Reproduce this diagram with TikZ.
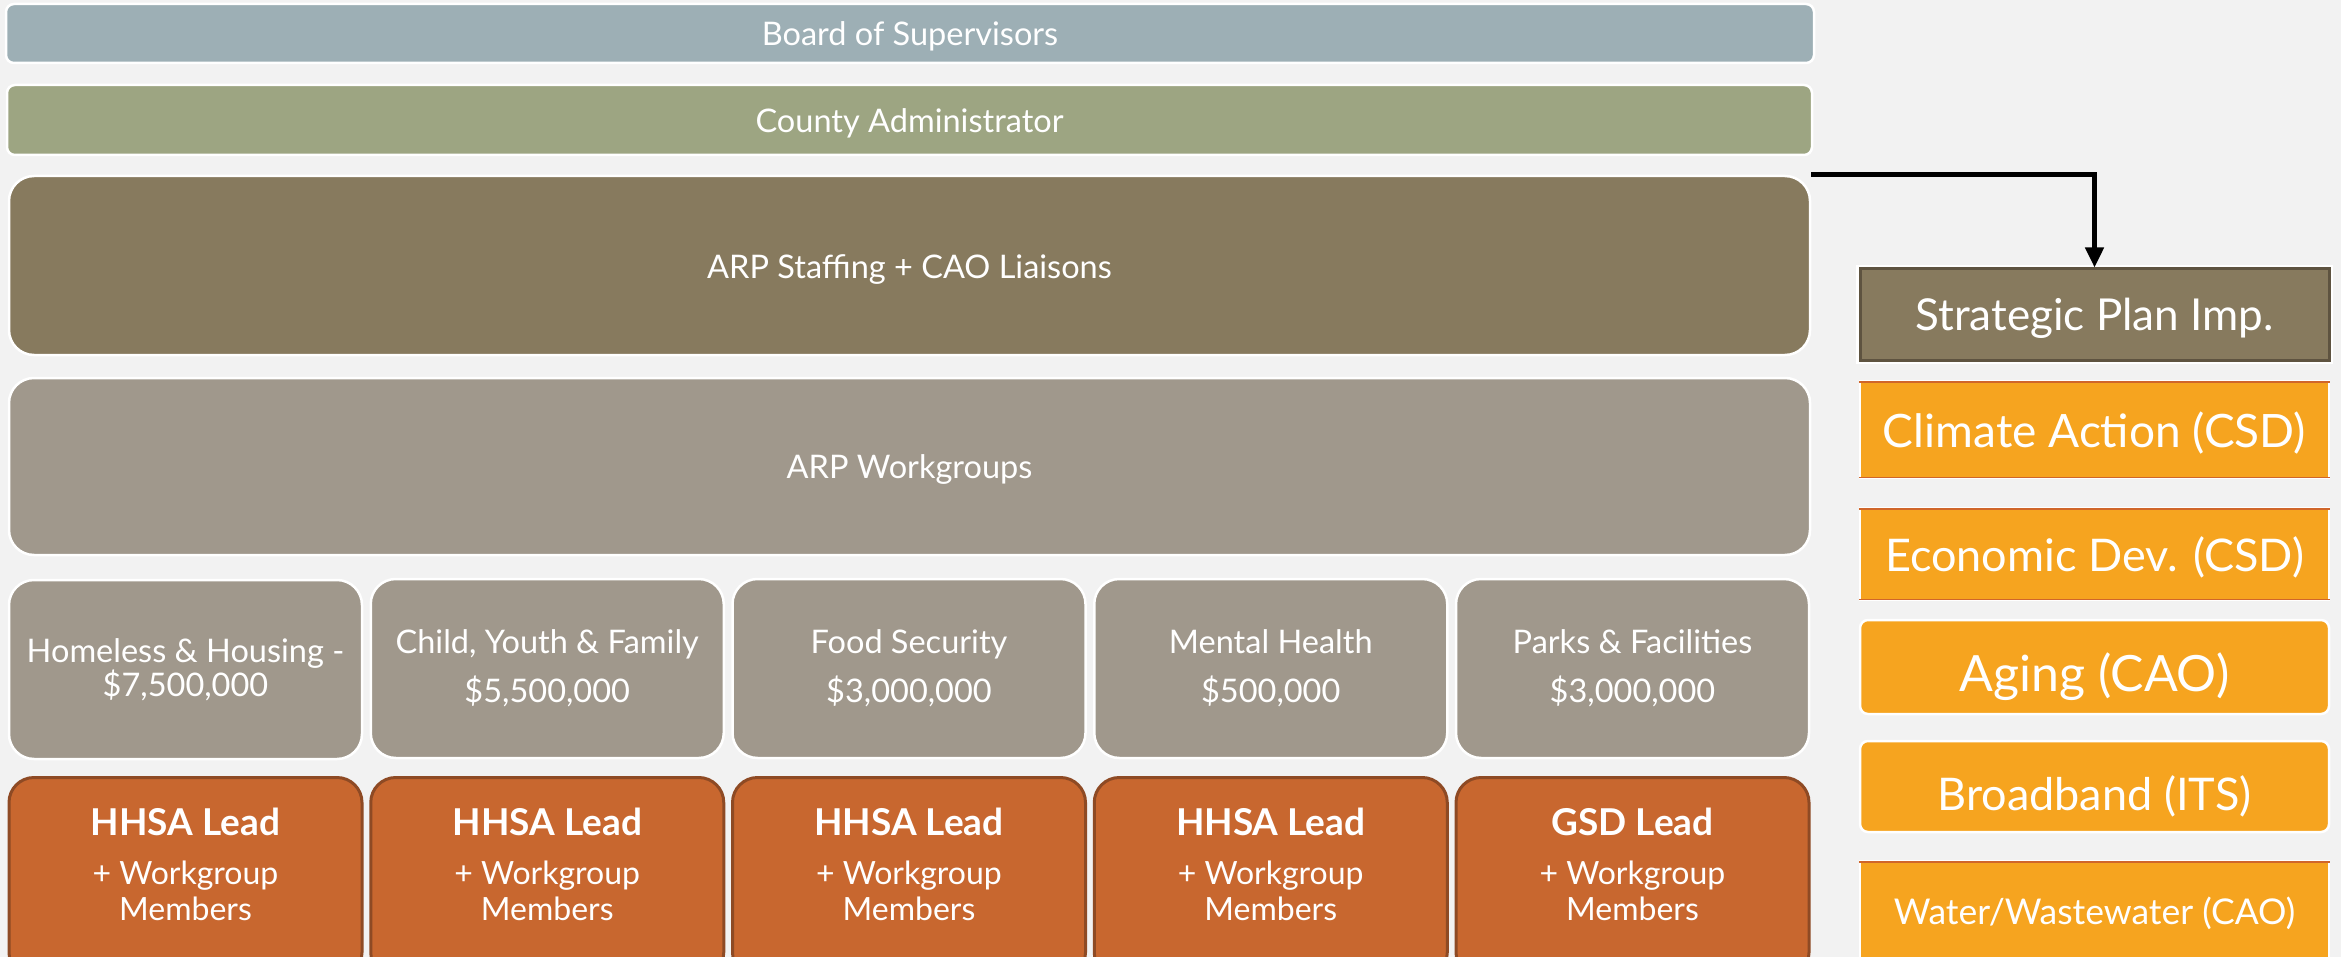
\documentclass[tikz,border=0pt]{standalone}
\usepackage{fontspec}
\setmainfont{Lato}
\usetikzlibrary{arrows.meta}
\definecolor{bgc}{HTML}{F2F2F2}
\definecolor{boardc}{HTML}{9DAFB5}
\definecolor{countyc}{HTML}{9DA582}
\definecolor{staffc}{HTML}{877A5E}
\definecolor{staffline}{HTML}{5E5340}
\definecolor{greyc}{HTML}{A0988C}
\definecolor{leadc}{HTML}{C8672F}
\definecolor{leadline}{HTML}{8E4A24}
\definecolor{sidec}{HTML}{F6A41F}
\definecolor{sideline}{HTML}{D0662A}
\newcommand\lowertext[2]{\raisebox{-#1}[\height][\depth]{#2}}
\begin{document}
\begin{tikzpicture}[x=1pt,y=-1pt,
  bandbox/.style={draw=white, line width=2.5pt, text=white, inner sep=0pt, align=center,
     font=\fontsize{32.5}{38}\selectfont},
  groupbox/.style={bandbox, fill=greyc, rounded corners=25pt, minimum width=353pt, minimum height=179pt},
  leadbox/.style={draw=leadline, line width=3pt, fill=leadc, rounded corners=25pt,
     minimum width=353pt, minimum height=200pt, anchor=north, inner sep=0pt},
  leadtext/.style={text=white, align=center, inner sep=0pt, font=\fontsize{32}{36}\selectfont},
  sidebox/.style={draw=white, line width=2.5pt, fill=sidec, text=white, inner sep=0pt,
     minimum width=469pt, align=center},
  edgeline/.style={draw=sideline, line width=1.5pt},
  link/.style={draw=black, line width=4.5pt, -{Triangle[width=18pt,length=20pt]}}
]
\useasboundingbox (0,0) rectangle (2341,957);
\clip (0,0) rectangle (2341,957);
\fill[bgc] (0,0) rectangle (2341,957);

% top bands
\node[bandbox, fill=boardc, rounded corners=8pt, minimum width=1808pt, minimum height=59pt]
  (board) at (910,33.5) {\lowertext{3pt}{Board of Supervisors}};
\node[bandbox, fill=countyc, rounded corners=8pt, minimum width=1805pt, minimum height=70pt]
  (county) at (909.5,120) {\lowertext{3pt}{County Administrator}};
\node[bandbox, fill=staffc, rounded corners=25pt, minimum width=1801pt, minimum height=179pt]
  (staff) at (909.5,265.5) {\lowertext{4pt}{ARP Staffing + CAO Liaisons}};
\node[bandbox, fill=greyc, rounded corners=25pt, minimum width=1801pt, minimum height=177pt]
  (wg) at (909.5,466.5) {\lowertext{3pt}{ARP Workgroups}};

% workgroups
\node[groupbox] (g1) at (185.5,669.5) {Homeless \& Housing -\\[-4pt]\$7,500,000};
\node[groupbox] (g2) at (547.25,668.5) {Child, Youth \& Family\\[11pt]\$5,500,000};
\node[groupbox] (g3) at (909,668.5) {Food Security\\[11pt]\$3,000,000};
\node[groupbox] (g4) at (1270.75,668.5) {Mental Health\\[11pt]\$500,000};
\node[groupbox] (g5) at (1632.5,668.5) {Parks \& Facilities\\[11pt]\$3,000,000};

% leads
\node[leadbox] (l1) at (185.5,776) {};
\node[leadbox] (l2) at (547.25,776) {};
\node[leadbox] (l3) at (909,776) {};
\node[leadbox] (l4) at (1270.75,776) {};
\node[leadbox] (l5) at (1632.5,776) {};
\foreach \n/\who in {1/HHSA,2/HHSA,3/HHSA,4/HHSA,5/GSD}{
  \node[leadtext, anchor=north] (t\n) at ([yshift=-32pt]l\n.north)
    {{\bfseries\fontsize{37}{40}\selectfont \who\ Lead}\\[13pt]+ Workgroup\\Members};
}

% side column
\node[draw=staffline, line width=3pt, preaction={draw=white, line width=8pt},
  fill=staffc, minimum width=469pt, minimum height=91pt,
  text=white, inner sep=0pt, font=\fontsize{44}{50}\selectfont] (strat) at (2094.5,314.5)
  {\lowertext{4pt}{Strategic Plan Imp.}};

\node[sidebox, minimum height=97pt, font=\fontsize{46}{50}\selectfont] (clim) at (2094.5,429.5)
  {\lowertext{4pt}{Climate Action (CSD)}};
\node[sidebox, minimum height=92pt, font=\fontsize{45}{50}\selectfont] (econ) at (2094.5,554)
  {\lowertext{3pt}{Economic Dev. (CSD)}};
\node[sidebox, rounded corners=8pt, minimum height=94pt, font=\fontsize{50}{54}\selectfont] (aging) at (2094.5,667)
  {\lowertext{10pt}{Aging (CAO)}};
\node[sidebox, rounded corners=8pt, minimum height=91pt, font=\fontsize{45}{50}\selectfont] (broad) at (2094.5,786.5)
  {\lowertext{10pt}{Broadband (ITS)}};
\node[sidebox, minimum height=110pt, font=\fontsize{35.5}{40}\selectfont] (water) at (2094.5,916)
  {\lowertext{-3pt}{Water/Wastewater (CAO)}};
\draw[edgeline] ([yshift=-2pt]clim.north west) -- ([yshift=-2pt]clim.north east);
\draw[edgeline] ([yshift=2pt]clim.south west) -- ([yshift=2pt]clim.south east);
\draw[edgeline] ([yshift=-2pt]econ.north west) -- ([yshift=-2pt]econ.north east);
\draw[edgeline] ([yshift=2pt]econ.south west) -- ([yshift=2pt]econ.south east);
\draw[edgeline] ([yshift=-2pt]water.north west) -- ([yshift=-2pt]water.north east);

% connector
\draw[link] (staff.north east) -| (strat.north);
\end{tikzpicture}
\end{document}
